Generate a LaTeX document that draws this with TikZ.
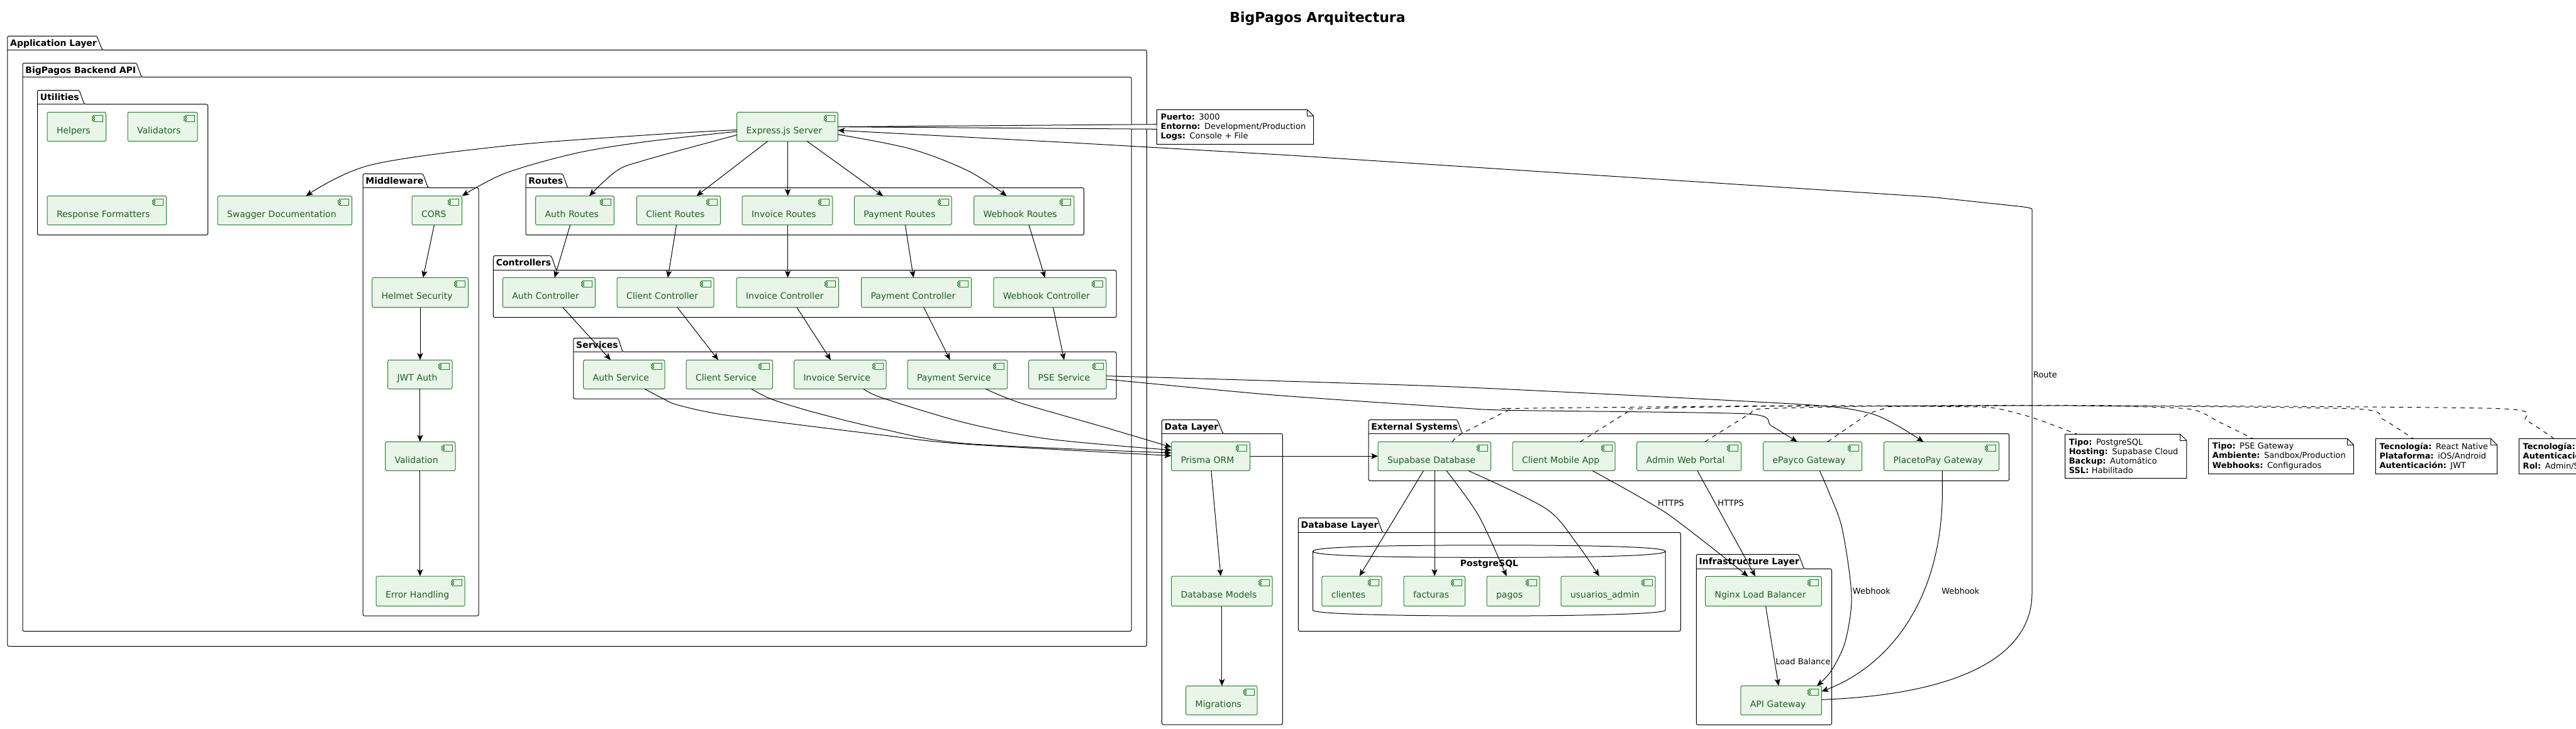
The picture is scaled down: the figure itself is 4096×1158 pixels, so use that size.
\documentclass[tikz,border=0pt]{standalone}
\usepackage{fontspec}
\setmainfont{DejaVu Sans}
\usetikzlibrary{arrows.meta}
\definecolor{compfill}{HTML}{E8F5E8}
\definecolor{compline}{HTML}{2E7D32}
\definecolor{compink}{HTML}{1B5E20}
\tikzset{
  comp/.style={rectangle,rounded corners=1.25pt,draw=compline,fill=compfill,line width=.5pt,
    font=\fontsize{7}{8}\selectfont,text=compink,inner xsep=7.5pt,inner ysep=0pt,outer sep=0pt,
    align=left,text height=11.1pt,text depth=.5pt},
  compicon/.style={draw=compline,line width=.5pt,fill=compfill},
  pkgline/.style={draw=black,line width=.5pt,rounded corners=1.25pt},
  pkglabel/.style={font=\fontsize{7}{8}\selectfont\bfseries,inner sep=0pt,anchor=base west},
  notetext/.style={rectangle,fill=white,inner xsep=3.15pt,inner ysep=0pt,outer sep=0pt,
    font=\fontsize{6.5}{7.55}\selectfont,align=left},
  noteline/.style={draw=black,line width=.5pt},
  notelink/.style={draw=black,line width=.5pt,fill=white},
  conn/.style={draw=black,line width=.5pt,-{Stealth[length=5.5pt,width=4.6pt,inset=1.3pt]}},
  dashedlink/.style={draw=black,line width=.5pt,dash pattern=on 3.5pt off 3.5pt},
  edgelabel/.style={font=\fontsize{6.5}{8}\selectfont,inner sep=0pt,anchor=west},
  dbline/.style={draw=black,line width=.5pt},
  titletext/.style={font=\fontsize{11}{13}\selectfont\bfseries,inner sep=0pt,anchor=base west},
}
\newcommand{\compbox}[6]{%
  \pgfmathsetmacro\cw{(#4-#2)/2}\pgfmathsetmacro\ch{(#5-#3)/2}\pgfmathsetmacro\tw{\cw-15}%
  \node[comp,minimum width=\cw pt,minimum height=\ch pt,text width=\tw pt] (#1) at ({(#2+#4)/2},{(#3+#5)/2}) {#6};%
  \draw[compicon] ([xshift=-10pt,yshift=-2.5pt]#1.north east) rectangle ([xshift=-2.5pt,yshift=-7.5pt]#1.north east);%
  \draw[compicon] ([xshift=-11pt,yshift=-3.5pt]#1.north east) rectangle ([xshift=-9pt,yshift=-4.5pt]#1.north east);%
  \draw[compicon] ([xshift=-11pt,yshift=-5.5pt]#1.north east) rectangle ([xshift=-9pt,yshift=-6.5pt]#1.north east);%
}
\newcommand{\pkgframe}[9]{%
  \draw[pkgline] (#2,#6) -- (#2,#3) -- (#4,#3) -- (#5,#6) -- (#7,#6) -- (#7,#8) -- (#2,#8) -- cycle;%
  \draw[pkgline] (#2,#6) -- (#5,#6);%
  \node[pkglabel] (#1) at ({#2+4},{#3+16}) {#9};%
}
\newcommand{\notebox}[6]{%
  \pgfmathsetmacro\cw{(#4-#2)/2}\pgfmathsetmacro\ch{(#5-#3)/2}\pgfmathsetmacro\tw{\cw-6.3}%
  \node[notetext,minimum width=\cw pt,minimum height=\ch pt,text width=\tw pt] (#1) at ({(#2+#4)/2},{(#3+#5)/2}) {#6};%
  \draw[noteline] (#2,#3) -- ({#4-10},#3) -- (#4,{#3+10}) -- (#4,#5) -- (#2,#5) -- cycle;%
  \draw[noteline] ({#4-10},#3) -- ({#4-10},{#3+10}) -- (#4,{#3+10});%
}
\begin{document}
\begin{tikzpicture}[x=0.5pt,y=-0.5pt]
\useasboundingbox (0,0) rectangle (4096,1158);
\clip (0,0) rectangle (4096,1158);
\node[titletext] (title) at (1955,35.3) {BigPagos Arquitectura};

% packages
\pkgframe{pApp}{11.8}{57.3}{154}{162.6}{79.5}{1823.4}{1027.5}{Application Layer}
\pkgframe{pBackend}{36}{100.3}{217}{225}{122.5}{1799}{1003.5}{BigPagos Backend API}
\pkgframe{pUtil}{59.5}{143.5}{126}{134}{165.7}{330.5}{373.7}{Utilities}
\pkgframe{pMid}{577}{276.4}{672.6}{680.5}{298.6}{761}{979.2}{Middleware}
\pkgframe{pRoutes}{836}{276.4}{894.7}{902.6}{298.6}{1723.5}{373.7}{Routes}
\pkgframe{pCtrl}{784.4}{406.6}{876.5}{884.4}{429.5}{1775}{504.6}{Controllers}
\pkgframe{pServ}{911.8}{537.5}{983}{990}{559.4}{1775}{634.2}{Services}
\pkgframe{pData}{1847.3}{667.4}{1935.7}{1944.6}{689.5}{2039.3}{1152}{Data Layer}
\pkgframe{pExt}{2176}{667.4}{2317}{2325}{689.5}{3194.6}{764.3}{External Systems}
\pkgframe{pDb}{2064.3}{823.3}{2190}{2198}{846.5}{2672.3}{1003.5}{Database Layer}
\pkgframe{pInfra}{2697.3}{881.4}{2860}{2868.3}{904.3}{2912.5}{1152.3}{Infrastructure Layer}

% database cylinder
\draw[dbline] (2087.5,876.5) .. controls (2087.5,868) and (2250,866.8) .. (2368,866.8) .. controls (2486,866.8) and (2648,868) .. (2648,876.5)
  .. controls (2648,885) and (2486,886.3) .. (2368,886.3) .. controls (2250,886.3) and (2087.5,885) .. (2087.5,876.5) -- (2087.5,970)
  .. controls (2087.5,977) and (2250,979.2) .. (2368,979.2) .. controls (2486,979.2) and (2648,977) .. (2648,970) -- (2648,876.5);
\node[font=\fontsize{7}{8}\selectfont\bfseries,inner sep=0pt] (pgLabel) at (2368,897) {PostgreSQL};

% note link of the server (under the components)
\compbox{express}{1171.6}{178.3}{1332.3}{224.6}{Express.js Server}
\notebox{nServer}{1839.3}{174.3}{2088.7}{229.3}{\textbf{Puerto:} 3000\\\textbf{Entorno:} Development/Production\\\textbf{Logs:} Console + File}
\draw[notelink] (nServer.west |- 0,197.7) -- (express.east |- 0,201.6) -- (nServer.west |- 0,205.3);

% components
\compbox{helpers}{75}{178.3}{168.5}{224.6}{Helpers}
\compbox{validators}{203}{178.3}{314}{224.6}{Validators}
\compbox{formatters}{75}{311.5}{264.5}{357.7}{Response Formatters}
\compbox{swagger}{346}{311.5}{559.7}{357.7}{Swagger Documentation}
\compbox{cors}{655}{311.5}{734.7}{357.7}{CORS}
\compbox{helmet}{591.7}{441.4}{744.5}{488.7}{Helmet Security}
\compbox{jwt}{616.5}{572.3}{719}{618.3}{JWT Auth}
\compbox{validation}{612.5}{702.4}{724}{748.4}{Validation}
\compbox{errorh}{598}{916}{739}{963.7}{Error Handling}
\compbox{rAuth}{851.6}{311.5}{976.4}{357.7}{Auth Routes}
\compbox{rClient}{1012.3}{311.5}{1145.5}{357.7}{Client Routes}
\compbox{rInvoice}{1180}{311.5}{1323.8}{357.7}{Invoice Routes}
\compbox{rPayment}{1358.4}{311.5}{1513}{357.7}{Payment Routes}
\compbox{rWebhook}{1548.5}{311.5}{1707.8}{357.7}{Webhook Routes}
\compbox{cAuth}{799.4}{441.4}{946.4}{488.7}{Auth Controller}
\compbox{cClient}{981}{441.4}{1135}{488.7}{Client Controller}
\compbox{cInvoice}{1171}{441.4}{1333.6}{488.7}{Invoice Controller}
\compbox{cPayment}{1369.5}{441.4}{1544.6}{488.7}{Payment Controller}
\compbox{cWebhook}{1579.8}{441.4}{1758.8}{488.7}{Webhook Controller}
\compbox{sAuth}{927.7}{572.3}{1057}{618.3}{Auth Service}
\compbox{sClient}{1091}{572.3}{1228.6}{618.3}{Client Service}
\compbox{sInvoice}{1262.5}{572.3}{1409}{618.3}{Invoice Service}
\compbox{sPayment}{1443}{572.3}{1601.8}{618.3}{Payment Service}
\compbox{sPse}{1635.7}{572.3}{1759}{618.3}{PSE Service}
\compbox{prisma}{1862.5}{702.4}{1987.5}{748.4}{Prisma ORM}
\compbox{models}{1862.5}{916}{2023}{963.7}{Database Models}
\compbox{migrations}{1885.7}{1090.5}{1999}{1136.6}{Migrations}
\compbox{supabase}{2191}{702.4}{2370.5}{748.4}{Supabase Database}
\compbox{mobile}{2405}{702.4}{2568}{748.4}{Client Mobile App}
\compbox{portal}{2602.7}{702.4}{2768.7}{748.4}{Admin Web Portal}
\compbox{epayco}{2803.6}{702.4}{2960.7}{748.4}{ePayco Gateway}
\compbox{placetopay}{2995.5}{702.4}{3178.6}{748.4}{PlacetoPay Gateway}
\compbox{clientes}{2101.8}{916}{2197}{963.7}{clientes}
\compbox{facturas}{2232}{916}{2329.5}{963.7}{facturas}
\compbox{pagos}{2364}{916}{2448}{963.7}{pagos}
\compbox{usuarios}{2482}{916}{2632}{963.7}{usuarios\_admin}
\compbox{nginx}{2711.6}{916.3}{2896.4}{963.7}{Nginx Load Balancer}
\compbox{api}{2767.8}{1090.4}{2896.4}{1136.7}{API Gateway}

% notes
\notebox{nSupabase}{3283.5}{690.3}{3476.8}{760.3}{\textbf{Tipo:} PostgreSQL\\\textbf{Hosting:} Supabase Cloud\\\textbf{Backup:} Automático\\\textbf{SSL:} Habilitado}
\notebox{nPse}{3511.6}{697.3}{3742.4}{753.3}{\textbf{Tipo:} PSE Gateway\\\textbf{Ambiente:} Sandbox/Production\\\textbf{Webhooks:} Configurados}
\notebox{nMobile}{3777.3}{697.3}{3970.5}{753.3}{\textbf{Tecnología:} React Native\\\textbf{Plataforma:} iOS/Android\\\textbf{Autenticación:} JWT}
\notebox{nPortal}{4005.4}{697.3}{4300}{753.3}{\textbf{Tecnología:}\\\textbf{Autenticación:}\\\textbf{Rol:} Admin/S}

% server fan-out
\draw[conn] plot[smooth,tension=.55] coordinates {(express.west |- 0,206.4) (1024,215) (803,232) (588,262.7) (486.6,0 |- swagger.north)};
\draw[conn] plot[smooth,tension=.55] coordinates {(express.west |- 0,209) (1024,225.7) (914,244) (803,275.6) (734.7,0 |- cors.north)};
\draw[conn] plot[smooth,tension=.55] coordinates {(express.west |- 0,214.6) (1024,255) (980,272) (937,0 |- rAuth.north)};
\draw[conn] (1220.6,0 |- express.south) -- (1107.6,0 |- rClient.north);
\draw[conn] (1252.6,0 |- express.south) -- (1252.6,0 |- rInvoice.north);
\draw[conn] (1283.3,0 |- express.south) -- (1404,0 |- rPayment.north);
\draw[conn] plot[smooth,tension=.55] coordinates {(express.east |- 0,213.8) (1448.5,236.8) (1540,272) (1600.7,0 |- rWebhook.north)};
% routes to controllers
\draw[conn] (906.6,0 |- rAuth.south) -- (881.8,0 |- cAuth.north);
\draw[conn] (1075.6,0 |- rClient.south) -- (1061.9,0 |- cClient.north);
\draw[conn] (1252.6,0 |- rInvoice.south) -- (1252.6,0 |- cInvoice.north);
\draw[conn] (1439.4,0 |- rPayment.south) -- (1452.5,0 |- cPayment.north);
\draw[conn] (1636,0 |- rWebhook.south) -- (1661.5,0 |- cWebhook.north);
% controllers to services
\draw[conn] (894.8,0 |- cAuth.south) -- (971,0 |- sAuth.north);
\draw[conn] (1077,0 |- cClient.south) -- (1142,0 |- sClient.north);
\draw[conn] (1267,0 |- cInvoice.south) -- (1321,0 |- sInvoice.north);
\draw[conn] (1468.8,0 |- cPayment.south) -- (1510.6,0 |- sPayment.north);
\draw[conn] (1674.5,0 |- cWebhook.south) -- (1692,0 |- sPse.north);
% middleware chain
\draw[conn] (690.4,0 |- cors.south) -- (672.7,0 |- helmet.north);
\draw[conn] (668,0 |- helmet.south) -- (668,0 |- jwt.north);
\draw[conn] (667.9,0 |- jwt.south) -- (667.9,0 |- validation.north);
\draw[conn] (667.9,0 |- validation.south) -- (667.9,0 |- errorh.north);
% services to prisma
\draw[conn] plot[smooth,tension=.5] coordinates {(1025,0 |- sAuth.south) (1053.6,633.4) (1080,644.5) (1161,661) (1400,691.3) (1534,706) (prisma.west |- 0,724.5)};
\draw[conn] plot[smooth,tension=.5] coordinates {(1194.6,0 |- sClient.south) (1227.7,635) (1295,655.6) (1400,681.4) (1534,705) (prisma.west |- 0,720)};
\draw[conn] plot[smooth,tension=.5] coordinates {(1373,0 |- sInvoice.south) (1404,633) (1534,672) (1668,698) (prisma.west |- 0,715.6)};
\draw[conn] plot[smooth,tension=.5] coordinates {(1567,0 |- sPayment.south) (1623,640.8) (1757,679.5) (prisma.west |- 0,710.9)};
% data layer
\draw[conn,line width=.7pt] (prisma.east |- 0,725.2) -- (supabase.west |- 0,725.2);
\draw[conn] (1925.9,0 |- prisma.south) -- (1941,0 |- models.north);
\draw[conn] (1942.9,0 |- models.south) -- (1942.9,0 |- migrations.north);
% database tables
\draw[conn] (2263.4,0 |- supabase.south) -- (2161.6,0 |- clientes.north);
\draw[conn] (2281,0 |- supabase.south) -- (2281,0 |- facturas.north);
\draw[conn] plot[smooth,tension=.5] coordinates {(2300,0 |- supabase.south) (2351,819.6) (2395.5,0 |- pagos.north)};
\draw[conn] plot[smooth,tension=.5] coordinates {(2334.8,0 |- supabase.south) (2458,808.5) (2507,863.8) (2542.9,0 |- usuarios.north)};
% to infrastructure
\draw[conn] plot[smooth,tension=.4] coordinates {(2532,0 |- mobile.south) (2650,816) (2779.5,0 |- nginx.north)};
\draw[conn] (2699,0 |- portal.south) -- (2791,0 |- nginx.north);
\draw[conn] (2807.6,0 |- nginx.south) -- (2828,0 |- api.north);
\draw[conn] plot[smooth,tension=.5] coordinates {(2893.3,0 |- epayco.south) (2907,780) (2929,840) (2944,946.7) (2934,1020) (2911.6,1066.7) (2889,0 |- api.north)};
\draw[conn] (3088.4,0 |- placetopay.south) -- (3088.4,790) .. controls (3085,960) and (3000,1060) .. (api.east |- 0,1099.3);
% route back to the server
\draw[conn] (api.east |- 0,1112.3) .. controls (3100,1105) and (3231,1050) .. (3231,943) -- (3231,333)
  .. controls (3231,330) and (3215,328.5) .. (3203,327.3) -- (3072,313.3) -- (2048,246.7) -- (1700,226.7) -- (express.east |- 0,207.2);
% PSE to the gateways
\draw[conn] plot[smooth,tension=.4] coordinates {(sPse.east |- 0,597.7) (2300,614.5) (2866,643) (2972,656.7) (3017,676.7) (3058.5,0 |- placetopay.north)};
\draw[conn] plot[smooth,tension=.4] coordinates {(sPse.east |- 0,602.9) (2025,628) (2300,647) (2399.5,652.3) (2778,658) (2816,676.7) (2857.6,0 |- epayco.north)};
% dashed note links
\draw[dashedlink] plot[smooth,tension=.4] coordinates {(2309,0 |- supabase.north) (2324,689.5) (2399,652) (2411,649.3) (2850,645) (3100,646.5) (3169,648.5) (3231,663.7) (3302.7,0 |- nSupabase.north)};
\draw[dashedlink] plot[smooth,tension=.4] coordinates {(2906,0 |- epayco.north) (2968,660) (2994.6,650) (3020,646) (3300,645) (3478.6,650) (3530,671.7) (3582,0 |- nPse.north)};
\draw[dashedlink] plot[smooth,tension=.4] coordinates {(2512.5,0 |- mobile.north) (2590.8,653.3) (2602,650) (2800,646) (3300,645) (3744,650) (3789,666.7) (3837,0 |- nMobile.north)};
\draw[dashedlink] plot[smooth,tension=.4] coordinates {(2710.7,0 |- portal.north) (2782,658) (2801,650) (3000,645.5) (3300,644.5) (3970,649.5) (4016.5,668) (4061,0 |- nPortal.north)};
% edge labels
\node[edgelabel] (lHttpsA) at (2635.7,799.7) {HTTPS};
\node[edgelabel] (lHttpsB) at (2731,799.7) {HTTPS};
\node[edgelabel] (lBalance) at (2823,1051.7) {Load Balance};
\node[edgelabel] (lHookA) at (2945.5,939.3) {Webhook};
\node[edgelabel] (lHookB) at (3087,939.3) {Webhook};
\node[edgelabel] (lRoute) at (3232.6,595.7) {Route};
\end{tikzpicture}
\end{document}
